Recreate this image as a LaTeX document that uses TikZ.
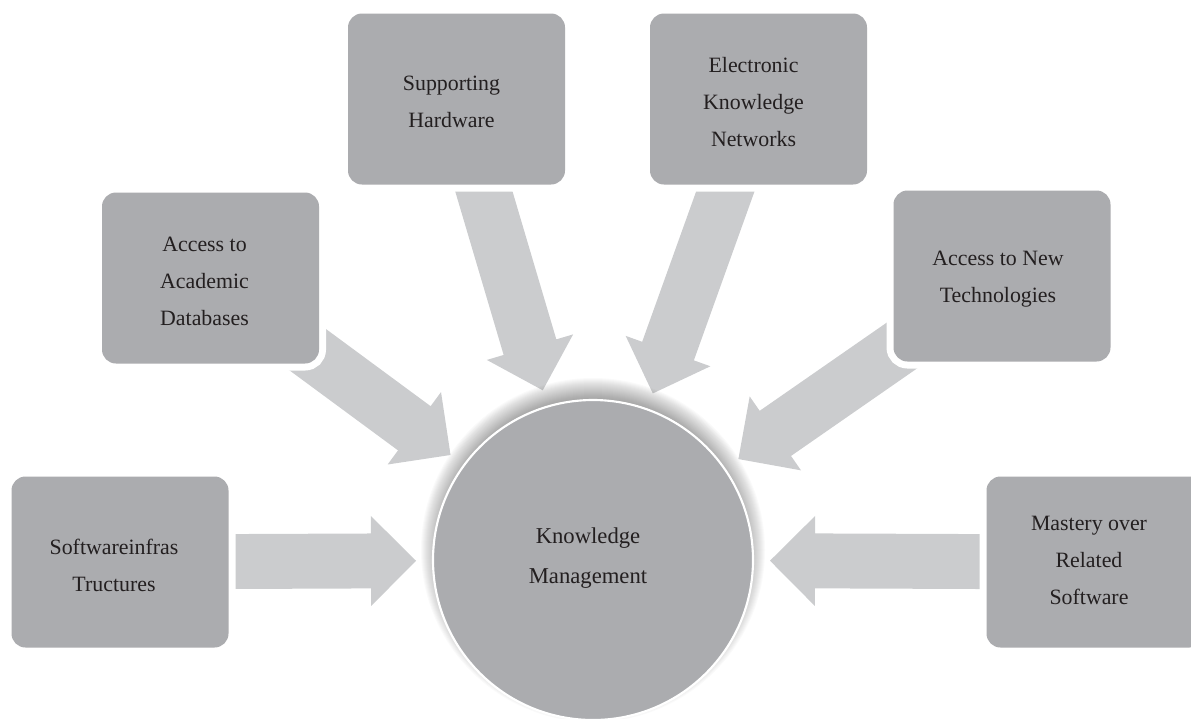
\documentclass[tikz,border=0pt]{standalone}
\usepackage{fontspec}
\setmainfont{Liberation Serif}
\usetikzlibrary{calc}
\definecolor{boxgray}{HTML}{ABACAF}
\definecolor{arrgray}{HTML}{CBCCCE}
\definecolor{txtcol}{HTML}{231F20}
\pgfdeclarelayer{arrowlayer}
\pgfsetlayers{arrowlayer,main}
\newcommand\blockarrow[2]{%
  \coordinate (hb) at ($(#2)!33.75pt!(#1)$);
  \fill[arrowstyle] ($(#1)!20.6pt!90:(#2)$) -- ($(hb)!20.6pt!-90:(#1)$) -- ($(hb)!33.75pt!-90:(#1)$) -- (#2) -- ($(hb)!33.75pt!90:(#1)$) -- ($(hb)!20.6pt!90:(#1)$) -- ($(#1)!20.6pt!-90:(#2)$) -- cycle;}
\begin{document}
\begin{tikzpicture}[x=0.75pt,y=-0.75pt,
  box/.style={rectangle, rounded corners=10.5pt, fill=boxgray, minimum width=162.75pt, minimum height=128.25pt, inner sep=0pt, preaction={draw=white, line width=10.5pt}},
  lbl/.style={align=center, text=txtcol, font=\fontsize{16.4}{27.75}\selectfont, inner sep=0pt},
  arrowstyle/.style={fill=arrgray}]
\useasboundingbox (0,0) rectangle (1191,718);
\clip (0,0) rectangle (1191,718);
\coordinate (kmc) at (593,560);
\node[box] (soft) at (120,562) {};
\node[box] (acad) at (210.5,278) {};
\node[box] (hard) at (456.5,99) {};
\node[box] (elec) at (758.5,99) {};
\node[box] (newt) at (1002,276) {};
\node[box] (mast) at (1095,562) {};
\node[lbl] (softT) at ($(soft)+(-6,3)$) {Softwareinfras\\Tructures};
\node[lbl] (acadT) at ($(acad)+(-6,3)$) {Access to\\Academic\\Databases};
\node[lbl] (hardT) at ($(hard)+(-5,3)$) {Supporting\\Hardware};
\node[lbl] (elecT) at ($(elec)+(-5,3)$) {Electronic\\Knowledge\\Networks};
\node[lbl] (newtT) at ($(newt)+(-4,3)$) {Access to New\\Technologies};
\node[lbl] (mastT) at ($(mast)+(-6,-2)$) {Mastery over\\Related\\Software};
\foreach \b in {soft,acad,hard,elec,newt,mast}
  \coordinate (t\b) at ($(kmc)!132.75pt!(\b)$);
\begin{pgfonlayer}{arrowlayer}
\foreach \b in {soft,acad,hard,elec,newt,mast} {\blockarrow{\b}{t\b}}
\end{pgfonlayer}
% soft shadow around the circle, strongest at the top: stacked translucent discs
\coordinate (shc) at ($(kmc)+(0,-10)$);
\foreach \i in {0,...,22} {
  \fill[black, opacity=0.02] (shc) circle[radius={(172-\i)*0.75pt}];
}
\node[circle, fill=boxgray, draw=white, line width=1.6pt, minimum size=240pt, inner sep=0pt] (km) at (kmc) {};
\node[lbl, font=\fontsize{17}{30}\selectfont] (kmT) at ($(km)+(-5,-2)$) {Knowledge\\Management};
\end{tikzpicture}
\end{document}
